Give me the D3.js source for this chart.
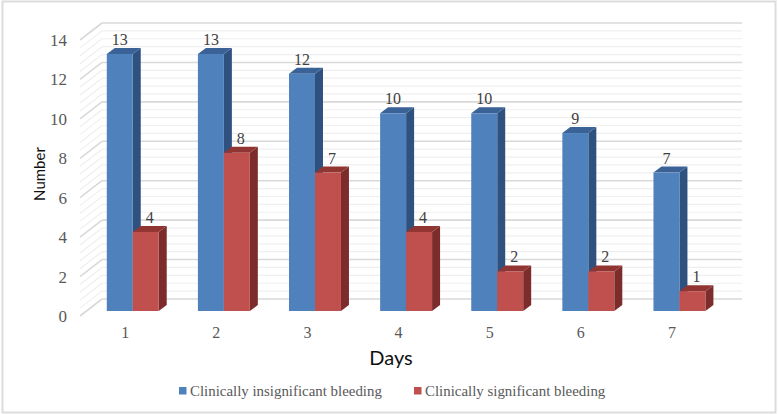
<!DOCTYPE html>
<html><head><meta charset="utf-8">
<script src="https://cdnjs.cloudflare.com/ajax/libs/d3/7.8.5/d3.min.js"></script>
<style>html,body{margin:0;padding:0;background:#fff}svg{display:block}</style>
</head><body><svg id="c" width="778" height="414"></svg>
<script>
const days = ["1","2","3","4","5","6","7"];
const insignificant = [13,13,12,10,10,9,7];
const significant = [4,8,7,4,2,2,1];
const seriesNames = ["Clinically insignificant bleeding","Clinically significant bleeding"];
const yTicks = [0,2,4,6,8,10,12,14];
const gridStep = 0.4;

const serif = "'Liberation Serif',serif", sans = "Lato,'Open Sans',sans-serif";
const svg = d3.select("#c");
svg.append("rect").attr("x",2.5).attr("y",1.5).attr("width",773).attr("height",411)
  .attr("fill","#fff").attr("stroke","#dcdcdc").attr("stroke-width",2);

const yFront = d3.scaleLinear().domain([0,14]).range([316,40]);
const yWall = d3.scaleLinear().domain([0,14]).range([299,23]);
const yBar = d3.scaleLinear().domain([0,14]).range([311,34.2]);
const x = d3.scaleBand().domain(days).range([87.2,725]).paddingInner(0.43).paddingOuter(0.215);
const bw = x.bandwidth()/2;
const dx = 8, dy = 6;

const gridVals = d3.range(0, Math.round(14/gridStep)+1).map(i=>+(i*gridStep).toFixed(1));
const g = svg.append("g");
gridVals.forEach(v=>{
  const major = yTicks.includes(v);
  const c = major ? "#d9d9d9" : "#efefef";
  const w = major ? 1.6 : 1.2;
  g.append("line").attr("x1",80).attr("x2",102).attr("y1",yFront(v)).attr("y2",yWall(v)).attr("stroke",c).attr("stroke-width",w);
  g.append("line").attr("x1",102).attr("x2",742).attr("y1",yWall(v)).attr("y2",yWall(v)).attr("stroke",c).attr("stroke-width",w);
});

const pal = [{f:"#4f81bd",t:"#3a6296",s:"#2f5180"},{f:"#c0504d",t:"#913532",s:"#7c2d2b"}];
function bar(px,v,p){
  const y0 = yBar(0), y1 = yBar(v);
  const gb = svg.append("g");
  gb.append("polygon").attr("fill",p.s).attr("points",[[px+bw,y1],[px+bw+dx,y1-dy],[px+bw+dx,y0-dy],[px+bw,y0]].join(" "));
  gb.append("polygon").attr("fill",p.t).attr("points",[[px,y1],[px+dx,y1-dy],[px+bw+dx,y1-dy],[px+bw,y1]].join(" "));
  gb.append("rect").attr("x",px).attr("y",y1).attr("width",bw).attr("height",y0-y1).attr("fill",p.f);
}
days.forEach((d,i)=>{
  bar(x(d),insignificant[i],pal[0]);
  bar(x(d)+bw,significant[i],pal[1]);
});
const lab = (tx,ty,t)=>svg.append("text").attr("x",tx).attr("y",ty).attr("text-anchor","middle")
  .attr("font-family",serif).attr("font-size",16).attr("fill","#404040").text(t);
days.forEach((d,i)=>{
  lab(x(d)+bw/2,yBar(insignificant[i])-9,insignificant[i]);
  lab(x(d)+bw*1.5+4,yBar(significant[i])-9,significant[i]);
});

const axL = svg.append("g").attr("transform","translate(67,0)")
  .call(d3.axisLeft(yFront).tickValues(yTicks).tickSize(0).tickPadding(0));
axL.select(".domain").remove();
axL.selectAll("text").attr("font-family",serif).attr("font-size",17).attr("fill","#595959");

const xLab = d3.scalePoint().domain(days).range([x("1")+bw-8,x("7")+bw-8]);
const axB = svg.append("g").attr("transform","translate(0,327)")
  .call(d3.axisBottom(xLab).tickSize(0).tickPadding(0));
axB.select(".domain").remove();
axB.selectAll("text").attr("font-family",serif).attr("font-size",16).attr("fill","#595959");

svg.append("text").attr("transform","translate(45,174) rotate(-90)").attr("text-anchor","middle")
  .attr("font-family",sans).attr("font-size",15).attr("fill","#111").text("Number");
svg.append("text").attr("x",391).attr("y",365).attr("text-anchor","middle")
  .attr("font-family",sans).attr("font-size",20).attr("fill","#111").text("Days");

[[179,190],[414,425]].forEach((l,i)=>{
  svg.append("rect").attr("x",l[0]).attr("y",387).attr("width",7.5).attr("height",7.5).attr("fill",pal[i].f);
  svg.append("text").attr("x",l[1]).attr("y",396).attr("font-family",serif).attr("font-size",14.9)
    .attr("fill","#595959").text(seriesNames[i]);
});
</script></body></html>
